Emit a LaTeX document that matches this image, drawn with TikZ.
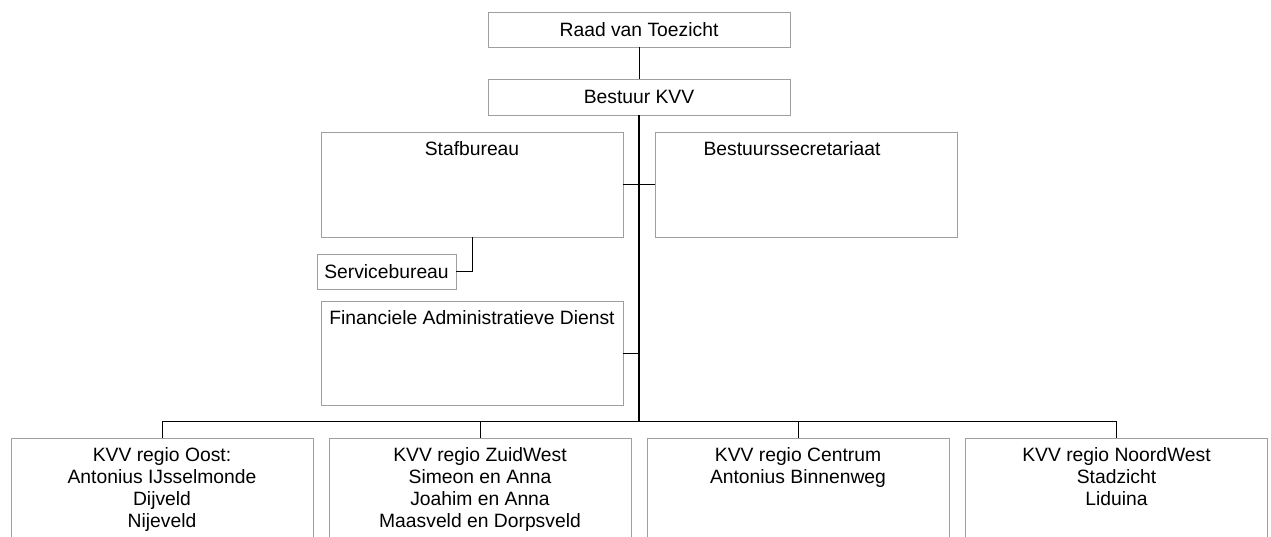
\documentclass[tikz,border=0pt]{standalone}
\usepackage{fontspec}
\setmainfont{Liberation Sans}
\usetikzlibrary{positioning}

\tikzset{
  orgbox/.style={draw=gray!75, line width=0.9pt, minimum width=302pt, minimum height=35pt, inner sep=0pt},
  boxtext/.style={anchor=north, inner sep=0pt, align=center, font=\fontsize{19.3}{22}\selectfont},
  link/.style={line width=1pt},
}

\begin{document}
\begin{tikzpicture}[x=1pt, y=-1pt, font=\fontsize{19.3}{22}\selectfont]
  \useasboundingbox (0,0) rectangle (1271,536);
  \clip (0,0) rectangle (1271,536);

  % top of the tree
  \node[orgbox] (raad) at (639,29.5) {Raad van Toezicht};
  \node[orgbox, minimum height=36pt] (bestuur) at (639,97) {Bestuur KVV};
  \coordinate (bus) at (639,421);

  % staff boxes
  \node[orgbox, minimum height=105pt] (staf) at (472,184.5) {};
  \node[orgbox, minimum height=105pt] (secr) at (806,184.5) {};
  \node[orgbox, minimum width=139pt] (service) at (386.5,271.5) {Servicebureau};
  \node[orgbox, minimum height=104pt] (fad) at (472,353) {};

  \node[boxtext] (stafT) at ([yshift=-10pt]staf.north) {Stafbureau};
  \node[boxtext] (secrT) at ([xshift=-14pt, yshift=-10pt]secr.north) {Bestuurssecretariaat};
  \node[boxtext] (fadT) at ([yshift=-10pt]fad.north) {Financiele Administratieve Dienst};

  % regions
  \node[orgbox, minimum height=107pt] (oost) at (162,491.5) {};
  \node[orgbox, minimum height=107pt] (zuidwest) at (480,491.5) {};
  \node[orgbox, minimum height=107pt] (centrum) at (798,491.5) {};
  \node[orgbox, minimum height=107pt] (noordwest) at (1116.5,491.5) {};

  \node[boxtext] (oostT) at ([yshift=-10pt]oost.north) {KVV regio Oost:\\Antonius IJsselmonde\\Dijveld\\Nijeveld};
  \node[boxtext] (zuidwestT) at ([yshift=-10pt]zuidwest.north) {KVV regio ZuidWest\\Simeon en Anna\\Joahim en Anna\\Maasveld en Dorpsveld};
  \node[boxtext] (centrumT) at ([yshift=-10pt]centrum.north) {KVV regio Centrum\\Antonius Binnenweg};
  \node[boxtext] (noordwestT) at ([yshift=-10pt]noordwest.north) {KVV regio NoordWest\\Stadzicht\\Liduina};

  % connectors
  \draw[link] (raad) -- (bestuur);
  \draw[line width=1.6pt] (bestuur.south) -- (bus);
  \draw[link] (staf.east) -- (secr.west);
  \draw[link] (fad.east) -- (fad.east -| bus);
  \draw[link] (staf.south) |- (service.east);

  \draw[link] (oost.north) |- (bus);
  \draw[link] (zuidwest.north) |- (bus);
  \draw[link] (centrum.north) |- (bus);
  \draw[link] (noordwest.north) |- (bus);
\end{tikzpicture}
\end{document}
